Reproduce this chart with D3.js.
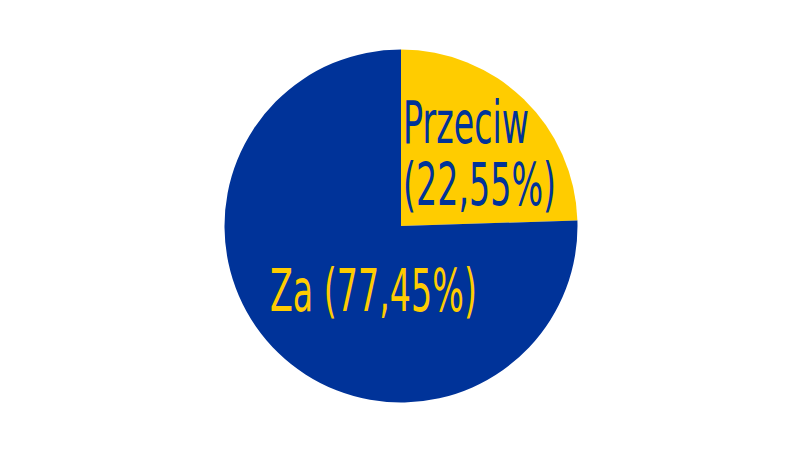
<!DOCTYPE html>
<html>
<head>
<meta charset="utf-8">
<script src="https://cdn.jsdelivr.net/npm/d3@7"></script>
<style>
  html, body { margin: 0; padding: 0; background: #fff; }
</style>
</head>
<body>
<div id="container"></div>
<script>
// Categories, the percentages printed on the chart and the slice shares
// as they are drawn in the picture (the drawn wedge is a bit wider than 22,55%)
const categories = ["Przeciw", "Za"];
const percentLabels = ["22,55%", "77,45%"];
const shares = [24.5, 75.5];
const colors = ["#ffcc00", "#003399"];
const textColors = ["#003399", "#ffcc00"];

const width = 810;
const height = 450;
const cx = 401, cy = 226, radius = 176.5;

const svg = d3.select("#container")
  .append("svg")
  .attr("width", width)
  .attr("height", height);

const g = svg.append("g")
  .attr("transform", `translate(${cx},${cy})`);

const data = categories.map((c, i) => ({ name: c, share: shares[i], pct: percentLabels[i], i }));

const pie = d3.pie()
  .sort(null)
  .value(d => d.share);

const arc = d3.arc()
  .innerRadius(0)
  .outerRadius(radius);

g.selectAll("path")
  .data(pie(data))
  .join("path")
  .attr("d", arc)
  .attr("fill", d => colors[d.data.i]);

// Labels: DejaVu, squeezed horizontally like in the original
const fontSize = 59;
const squeeze = 0.565;

// Przeciw label, two lines, left aligned at the slice's vertical edge
const lp = g.append("g")
  .attr("transform", `translate(2,-83) scale(${squeeze},1)`);
lp.append("text")
  .attr("font-family", "DejaVu Sans")
  .attr("font-size", fontSize)
  .attr("fill", textColors[0])
  .selectAll("tspan")
  .data([data[0].name, `(${data[0].pct})`])
  .join("tspan")
  .attr("x", 0)
  .attr("dy", (d, i) => i === 0 ? 0 : 62)
  .text(d => d);

// Za label, one line
g.append("g")
  .attr("transform", `translate(-131,85) scale(${squeeze},1)`)
  .append("text")
  .attr("font-family", "DejaVu Sans")
  .attr("font-size", fontSize)
  .attr("fill", textColors[1])
  .text(`${data[1].name} (${data[1].pct})`);
</script>
</body>
</html>
